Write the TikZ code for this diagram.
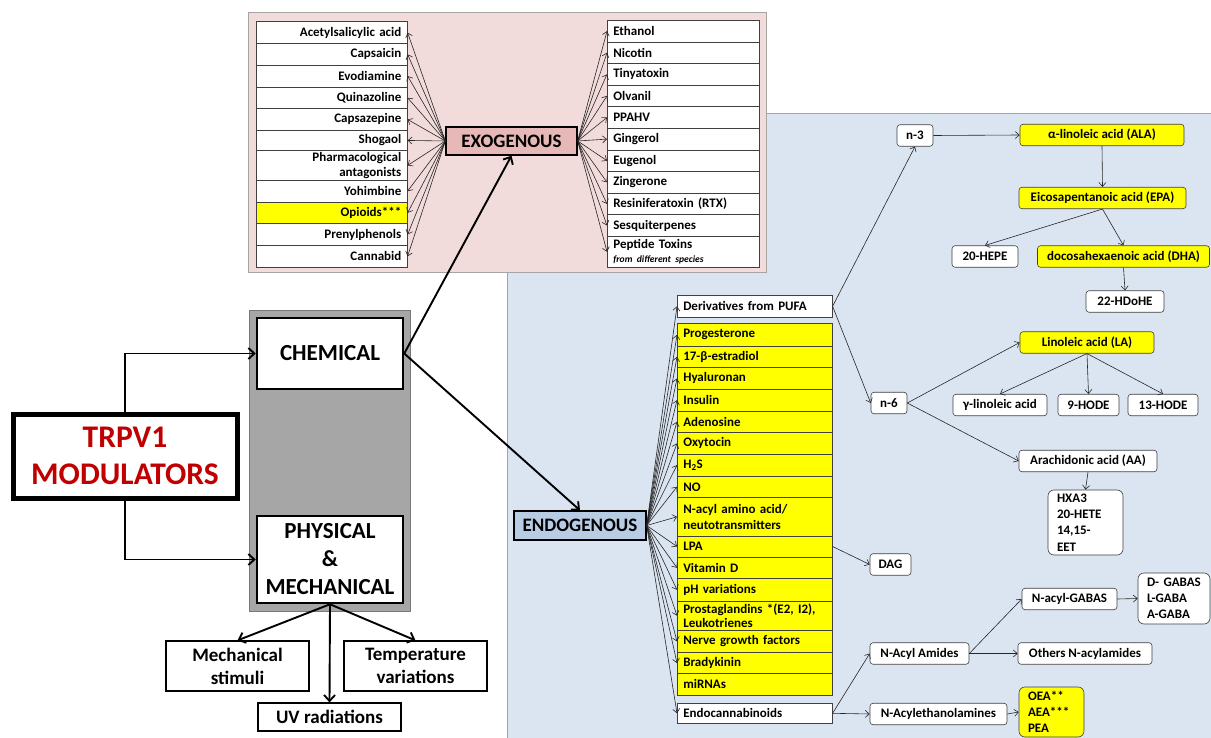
\documentclass[tikz,border=0pt]{standalone}
\usepackage{fontspec}
\setmainfont{Carlito}
\usetikzlibrary{arrows.meta}
\definecolor{yel}{RGB}{255,255,0}
\definecolor{pinkbg}{RGB}{242,219,219}
\definecolor{bluebg}{RGB}{219,229,241}
\definecolor{exofill}{RGB}{230,184,183}
\definecolor{endofill}{RGB}{184,204,228}
\definecolor{grayfill}{RGB}{166,166,166}
\definecolor{grayline}{RGB}{120,120,120}
\definecolor{darkred}{RGB}{192,0,0}
\definecolor{panelline}{RGB}{165,165,165}
\begin{document}
\begin{tikzpicture}[x=1pt,y=-1pt,
  lst/.style={font=\fontsize{13}{15.5}\selectfont\bfseries},
  lrow/.style={draw=black!75, line width=0.6pt, fill=white, anchor=north west, text width=139pt, inner xsep=6pt, inner ysep=0pt, align=right, minimum height=21.7pt, lst},
  rrow/.style={draw=black!75, line width=0.6pt, fill=white, anchor=north west, text width=140pt, inner xsep=6pt, inner ysep=0pt, align=left, minimum height=21.6pt, lst},
  erow/.style={draw=black!75, line width=0.6pt, fill=yel, anchor=north west, text width=143pt, inner xsep=6pt, inner ysep=0pt, align=left, minimum height=21.6pt, lst},
  tn/.style={draw=black!75, line width=0.6pt, rounded corners=3pt, fill=white, inner sep=0pt, align=center, minimum height=21.5pt, lst},
  tl/.style={draw=black!75, line width=0.6pt, rounded corners=6pt, fill=white, inner xsep=9pt, inner ysep=0pt, align=left, lst},
  arr/.style={-{Straight Barb[length=4pt,width=7pt]}, line width=0.6pt, black!85},
  bigarr/.style={-{Straight Barb[length=6pt,width=11pt]}, line width=1.9pt, black},
  mainbox/.style={draw=black, line width=2.5pt, fill=white, inner sep=0pt, align=center, font=\fontsize{23}{28}\selectfont\bfseries},
  smallbox/.style={draw=black, line width=1.2pt, fill=white, inner sep=0pt, align=center, minimum width=143pt, font=\fontsize{19}{23}\selectfont\bfseries},
]
\useasboundingbox (0,0) rectangle (1211,738);
\fill[white] (0,0) rectangle (1211,738);
% panels
\draw[draw=panelline, fill=bluebg] (507,113) rectangle (1215,745);
\draw[draw=panelline, fill=pinkbg] (248,12) rectangle (766,272);
\draw[draw=grayline, fill=grayfill] (249,310) rectangle (410,611);

% left exogenous list
\node[lrow] (l1) at (256,21.5) {Acetylsalicylic acid};
\node[lrow] (l2) at (256,43.2) {Capsaicin};
\node[lrow] (l3) at (256,64.9) {Evodiamine};
\node[lrow] (l4) at (256,86.6) {Quinazoline};
\node[lrow] (l5) at (256,108.3) {Capsazepine};
\node[lrow, minimum height=20.3pt] (l6) at (256,130.0) {Shogaol};
\node[lrow, minimum height=29.7pt] (l7) at (256,150.3) {Pharmacological\\antagonists};
\node[lrow] (l8) at (256,180.0) {Yohimbine};
\node[lrow, fill=yel] (l9) at (256,201.7) {Opioids***};
\node[lrow] (l10) at (256,223.4) {Prenylphenols};
\node[lrow] (l11) at (256,245.1) {Cannabid};

% right exogenous list
\node[rrow] (r1) at (607,20) {Ethanol};
\node[rrow] (r2) at (607,41.6) {Nicotin};
\node[rrow] (r3) at (607,63.2) {Tinyatoxin};
\node[rrow] (r4) at (607,84.8) {Olvanil};
\node[rrow] (r5) at (607,106.4) {PPAHV};
\node[rrow] (r6) at (607,128) {Gingerol};
\node[rrow] (r7) at (607,149.6) {Eugenol};
\node[rrow] (r8) at (607,171.2) {Zingerone};
\node[rrow] (r9) at (607,192.8) {Resiniferatoxin (RTX)};
\node[rrow] (r10) at (607,214.4) {Sesquiterpenes};
\node[rrow, minimum height=31pt] (r11) at (607,236) {Peptide Toxins\\[-2pt]{\fontsize{9.6}{10.5}\selectfont\itshape from different species}};

% EXOGENOUS
\node[draw=black, line width=1.3pt, fill=exofill, minimum width=131pt, minimum height=28pt, inner sep=0pt, font=\fontsize{19}{22}\selectfont\bfseries] (exo) at (511.5,141) {EXOGENOUS};
\foreach \n in {l1,l2,l3,l4,l5,l6,l7,l8,l9,l10,l11} \draw[arr] (exo.west) -- (\n.east);
\foreach \n in {r1,r2,r3,r4,r5,r6,r7,r8,r9,r10,r11} \draw[arr] (exo.east) -- (\n.west);

% left side
\node[mainbox, minimum width=146pt, minimum height=71pt] (chem) at (330,353.5) {CHEMICAL};
\node[mainbox, minimum width=146pt, minimum height=87pt] (phys) at (330,559.5) {PHYSICAL\\\&\\MECHANICAL};
\node[draw=black, line width=5pt, fill=white, minimum width=224pt, minimum height=84pt, inner sep=0pt, align=center, text=darkred, font=\fontsize{31.5}{37}\selectfont\bfseries] (trpv) at (125,456) {TRPV1\\MODULATORS};
\node[smallbox, minimum height=50pt] (mech) at (237.5,666) {Mechanical\\stimuli};
\node[smallbox, minimum height=50pt] (temp) at (415.5,666) {Temperature\\variations};
\node[smallbox, minimum height=28pt] (uv) at (329.5,717) {UV radiations};

\draw[bigarr] (trpv.north) |- (chem.west);
\draw[bigarr] (trpv.south) |- (phys.west);
\draw[bigarr] (phys.south) -- (mech.north);
\draw[bigarr] (phys.south) -- (uv.north);
\draw[bigarr] (phys.south) -- (temp.north);

% ENDOGENOUS
\node[draw=black, line width=1.3pt, fill=endofill, minimum width=132pt, minimum height=29pt, inner sep=0pt, font=\fontsize{19}{22}\selectfont\bfseries] (endo) at (580,525.5) {ENDOGENOUS};
\draw[bigarr] (chem.east) -- (exo.south);
\draw[bigarr] (chem.east) -- (endo.north);

% endogenous list
\node[erow, fill=white, minimum height=22pt] (deriv) at (677,295) {Derivatives from PUFA};
\node[erow, minimum height=22.4pt] (e1) at (677,323.3) {Progesterone};
\node[erow] (e2) at (677,345.7) {17-β-estradiol};
\node[erow] (e3) at (677,367.3) {Hyaluronan};
\node[erow] (e4) at (677,389) {Insulin};
\node[erow] (e5) at (677,410.7) {Adenosine};
\node[erow] (e6) at (677,432.3) {Oxytocin};
\node[erow] (e7) at (677,454) {H\textsubscript{2}S};
\node[erow] (e8) at (677,475.7) {NO};
\node[erow, minimum height=38.4pt] (e9) at (677,497.3) {N-acyl amino acid/\\neutotransmitters};
\node[erow, minimum height=21pt] (e10) at (677,535.7) {LPA};
\node[erow] (e11) at (677,556.7) {Vitamin D};
\node[erow, minimum height=22.4pt] (e12) at (677,578.3) {pH variations};
\node[erow, minimum height=29.3pt] (e13) at (677,600.7) {Prostaglandins *(E2, I2),\\[-1pt]Leukotrienes};
\node[erow, minimum height=22.3pt] (e14) at (677,630) {Nerve growth factors};
\node[erow, minimum height=21pt] (e15) at (677,652.3) {Bradykinin};
\node[erow, minimum height=21.7pt] (e16) at (677,673.3) {miRNAs};
\node[erow, fill=white, minimum height=20.6pt] (endoc) at (677,702.7) {Endocannabinoids};
\foreach \n in {deriv,e1,e2,e3,e4,e5,e6,e7,e8,e9,e10,e11,e12,e13,e14,e15,endoc} \draw[arr] (endo.east) -- (\n.west);

% PUFA tree
\node[tn, minimum width=36pt] (n3) at (915,135.5) {n-3};
\node[tn, fill=yel, minimum width=164pt] (ala) at (1102,135) {α-linoleic acid (ALA)};
\node[tn, fill=yel, minimum width=167pt] (epa) at (1102.5,198) {Eicosapentanoic acid (EPA)};
\node[tn, minimum width=66pt] (hepe) at (985,256.5) {20-HEPE};
\node[tn, fill=yel, minimum width=172pt] (dha) at (1123.5,256.5) {docosahexaenoic acid (DHA)};
\node[tn, minimum width=78pt] (hdohe) at (1125,301.5) {22-HDoHE};
\node[tn, fill=yel, minimum width=134pt] (la) at (1087,342.5) {Linoleic acid (LA)};
\node[tn, minimum width=36pt] (n6) at (889,403) {n-6};
\node[tn, minimum width=94pt] (gam) at (1000,405) {γ-linoleic acid};
\node[tn, minimum width=61pt] (h9) at (1088.5,405) {9-HODE};
\node[tn, minimum width=70pt] (h13) at (1163,405) {13-HODE};
\node[tn, minimum width=138pt] (aa) at (1088,461) {Arachidonic acid (AA)};
\node[tl, text width=57pt, minimum height=65pt, font=\fontsize{13}{16.3}\selectfont\bfseries] (hxa) at (1085.5,522.5) {HXA3\\20-HETE\\14,15-\\EET};
\node[tn, minimum width=41pt] (dag) at (890.5,564.5) {DAG};

\draw[arr] (deriv.east) -- (n3.south);
\draw[arr] (deriv.east) -- (n6.west);
\draw[arr] (n3.east) -- (ala.west);
\draw[arr] (ala.south) -- (epa.north);
\draw[arr] (epa.south) -- (hepe.north);
\draw[arr] (epa.south) -- (dha.north);
\draw[arr] (dha.south) -- (hdohe.north);
\draw[arr] (n6.east) -- (la.west);
\draw[arr] (n6.east) -- (aa.west);
\draw[arr] (la.south) -- (gam.north);
\draw[arr] (la.south) -- (h9.north);
\draw[arr] (la.south) -- (h13.north);
\draw[arr] (aa.south) -- (hxa.north);
\draw[arr] (e10.east) -- (dag.west);

% endocannabinoid tree
\node[tn, minimum width=95pt] (gabas) at (1069.5,599) {N-acyl-GABAS};
\node[tl, text width=54pt, minimum height=51pt, font=\fontsize{13}{16}\selectfont\bfseries] (dgaba) at (1174,598.5) {D- GABAS\\L-GABA\\A-GABA};
\node[tn, minimum width=99pt] (amides) at (919.5,653.5) {N-Acyl Amides};
\node[tn, minimum width=134pt] (others) at (1085,653.5) {Others N-acylamides};
\node[tn, minimum width=137pt] (nae) at (938.5,714) {N-Acylethanolamines};
\node[tl, fill=yel, text width=47pt, minimum height=50pt, font=\fontsize{13}{16}\selectfont\bfseries] (oea) at (1051.5,712) {OEA**\\AEA***\\PEA};

\draw[arr] (endoc.east) -- (amides.west);
\draw[arr] (endoc.east) -- (nae.west);
\draw[arr] (amides.east) -- (gabas.west);
\draw[arr] (amides.east) -- (others.west);
\draw[arr] (gabas.east) -- (dgaba.west);
\draw[arr] (nae.east) -- (oea.west);
\end{tikzpicture}
\end{document}
